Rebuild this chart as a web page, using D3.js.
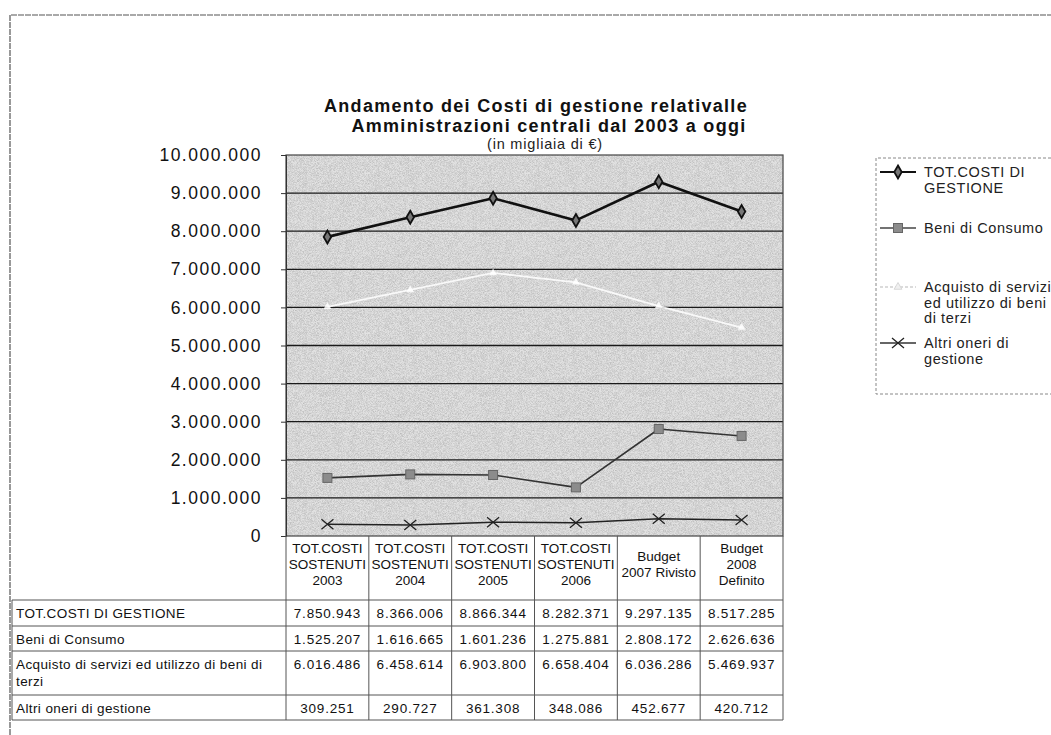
<!DOCTYPE html>
<html>
<head>
<meta charset="utf-8">
<script src="https://cdn.jsdelivr.net/npm/d3@7"></script>
<style>
  html, body { margin: 0; padding: 0; background: #fff; }
  svg { display: block; font-family: "Liberation Sans", Arial, sans-serif; }
</style>
</head>
<body>
<svg id="chart" width="1051" height="735"></svg>
<script>
// ---------------- DATA ----------------
const categories = [
  "TOT.COSTI SOSTENUTI 2003", "TOT.COSTI SOSTENUTI 2004", "TOT.COSTI SOSTENUTI 2005",
  "TOT.COSTI SOSTENUTI 2006", "Budget 2007 Rivisto", "Budget 2008 Definito"
];
const categoryLines = [
  ["TOT.COSTI", "SOSTENUTI", "2003"],
  ["TOT.COSTI", "SOSTENUTI", "2004"],
  ["TOT.COSTI", "SOSTENUTI", "2005"],
  ["TOT.COSTI", "SOSTENUTI", "2006"],
  ["Budget", "2007 Rivisto"],
  ["Budget", "2008", "Definito"]
];
const seriesNames = [
  "TOT.COSTI DI GESTIONE",
  "Beni di Consumo",
  "Acquisto di servizi ed utilizzo di beni di terzi",
  "Altri oneri di gestione"
];
const totCosti        = [7850943, 8366006, 8866344, 8282371, 9297135, 8517285];
const beniConsumo     = [1525207, 1616665, 1601236, 1275881, 2808172, 2626636];
const acquistoServizi = [6016486, 6458614, 6903800, 6658404, 6036286, 5469937];
const altriOneri      = [309251, 290727, 361308, 348086, 452677, 420712];
const yTicks = [0, 1000000, 2000000, 3000000, 4000000, 5000000, 6000000, 7000000, 8000000, 9000000, 10000000];
const legendLabelLines = [
  ["TOT.COSTI DI", "GESTIONE"],
  ["Beni di Consumo"],
  ["Acquisto di servizi", "ed utilizzo di beni", "di terzi"],
  ["Altri oneri di", "gestione"]
];
const tableRowLabelLines = [
  ["TOT.COSTI DI GESTIONE"],
  ["Beni di Consumo"],
  ["Acquisto di servizi ed utilizzo di beni di", "terzi"],
  ["Altri oneri di gestione"]
];
const titleLines = ["Andamento dei Costi di gestione relativalle", "Amministrazioni centrali dal 2003 a oggi"];
const subtitle = "(in migliaia di €)";

const seriesValues = [totCosti, beniConsumo, acquistoServizi, altriOneri];

// ---------------- SETUP ----------------
const svg = d3.select("#chart");
const itLocale = d3.formatLocale({ decimal: ",", thousands: ".", grouping: [3], currency: ["", "€"] });
const fmt = itLocale.format(",d");

const plot = { left: 286, right: 783, top: 155, bottom: 536 };
const x = d3.scaleBand().domain(categories).range([plot.left, plot.right]);
const y = d3.scaleLinear().domain([0, 10000000]).range([plot.bottom, plot.top]);

// defs: fine stipple texture
const defs = svg.append("defs");
const f = defs.append("filter").attr("id", "grain").attr("x", 0).attr("y", 0).attr("width", "100%").attr("height", "100%");
f.append("feTurbulence").attr("type", "fractalNoise").attr("baseFrequency", 1.6).attr("numOctaves", 1).attr("seed", 7).attr("result", "t");
f.append("feColorMatrix").attr("in", "t").attr("type", "matrix")
  .attr("values", "0 0 0 0 0.25  0 0 0 0 0.25  0 0 0 0 0.25  1.3 0 0 0 -0.45");

// outer frame
svg.append("path")
  .attr("d", "M10,735 L10,15 L1051,15")
  .attr("fill", "none").attr("stroke", "#555").attr("stroke-width", 1.2).attr("stroke-dasharray", "6,1");

// title
const tg = svg.append("g").attr("font-weight", "bold").attr("font-size", 18).attr("fill", "#111").attr("text-anchor", "middle").attr("letter-spacing", 1.3);
tg.append("text").attr("x", 536).attr("y", 112).text(titleLines[0]);
tg.append("text").attr("x", 549).attr("y", 132).text(titleLines[1]);
svg.append("text").attr("x", 545).attr("y", 149).attr("text-anchor", "middle").attr("font-size", 14.5).attr("letter-spacing", 0.8).attr("fill", "#222").text(subtitle);

// plot background
svg.append("rect").attr("x", plot.left).attr("y", plot.top).attr("width", plot.right - plot.left).attr("height", plot.bottom - plot.top).attr("fill", "#e2e2e2");
svg.append("rect").attr("x", plot.left).attr("y", plot.top).attr("width", plot.right - plot.left).attr("height", plot.bottom - plot.top).attr("filter", "url(#grain)").attr("opacity", 0.75);

// gridlines
svg.append("g").selectAll("line").data(yTicks.filter(d => d > 0 && d < 10000000)).join("line")
  .attr("x1", plot.left).attr("x2", plot.right)
  .attr("y1", d => y(d)).attr("y2", d => y(d))
  .attr("stroke", "#1a1a1a").attr("stroke-width", 1.3);

// plot border
svg.append("rect").attr("x", plot.left).attr("y", plot.top).attr("width", plot.right - plot.left).attr("height", plot.bottom - plot.top)
  .attr("fill", "none").attr("stroke", "#444").attr("stroke-width", 1.2);

// y axis
const yAxis = d3.axisLeft(y).tickValues(yTicks).tickFormat(fmt).tickSize(5).tickPadding(19);
const yg = svg.append("g").attr("transform", `translate(${plot.left},0)`).call(yAxis);
yg.select(".domain").attr("stroke", "#333");
yg.selectAll(".tick line").attr("stroke", "#333");
yg.selectAll(".tick text").attr("font-size", 17.5).attr("font-family", "Liberation Sans, Arial, sans-serif").attr("fill", "#111").attr("letter-spacing", 1.5);

// ---------------- SERIES ----------------
const cx = d => x(d) + x.bandwidth() / 2;
const line = d3.line().x(d => cx(d.c)).y(d => y(d.v));
const seriesStyle = [
  { stroke: "#111", width: 2.6, opacity: 1 },
  { stroke: "#333", width: 1.6, opacity: 1 },
  { stroke: "#ffffff", width: 1.8, opacity: 0.85 },
  { stroke: "#222", width: 1.5, opacity: 1 }
];
const series = seriesValues.map((vals, i) => vals.map((v, j) => ({ c: categories[j], v, s: i })));

const sg = svg.append("g");
series.forEach((pts, i) => {
  sg.append("path").datum(pts).attr("d", line).attr("fill", "none")
    .attr("stroke", seriesStyle[i].stroke).attr("stroke-width", seriesStyle[i].width)
    .attr("stroke-opacity", seriesStyle[i].opacity).attr("stroke-linejoin", "round");
});

function drawMarker(g, s, px, py) {
  if (s === 0) {
    g.append("path").attr("d", d3.symbol(d3.symbolDiamond, 48)()).attr("transform", `translate(${px},${py})`)
      .attr("fill", "#777").attr("stroke", "#111").attr("stroke-width", 1.8);
  } else if (s === 1) {
    g.append("rect").attr("x", px - 4.5).attr("y", py - 4.5).attr("width", 9).attr("height", 9)
      .attr("fill", "#8c8c8c").attr("stroke", "#666").attr("stroke-width", 1);
  } else if (s === 2) {
    g.append("path").attr("d", d3.symbol(d3.symbolTriangle, 26)()).attr("transform", `translate(${px},${py})`)
      .attr("fill", "#fff").attr("fill-opacity", 0.85).attr("stroke", "none");
  } else {
    g.append("path").attr("d", `M${px - 6},${py - 5}L${px + 6},${py + 5}M${px - 6},${py + 5}L${px + 6},${py - 5}`)
      .attr("stroke", "#222").attr("stroke-width", 1.3).attr("fill", "none");
  }
}
series.forEach((pts, i) => pts.forEach(p => drawMarker(sg, i, cx(p.c), y(p.v))));

// ---------------- LEGEND ----------------
const lg = svg.append("g");
lg.append("path").attr("d", "M1051,158 L876,158 L876,394 L1051,394")
  .attr("fill", "none").attr("stroke", "#888").attr("stroke-width", 1).attr("stroke-dasharray", "3,2");
const legendY = [172, 228, 287, 343];
const legendLineStroke = ["#111", "#444", "#d0d0d0", "#333"];
legendLabelLines.forEach((lines, i) => {
  const ly = legendY[i];
  lg.append("line").attr("x1", 880).attr("x2", 916).attr("y1", ly).attr("y2", ly)
    .attr("stroke", legendLineStroke[i]).attr("stroke-width", i === 0 ? 2.2 : 1.4)
    .attr("stroke-dasharray", i === 2 ? "3,2" : null);
  if (i === 2) {
    lg.append("path").attr("d", d3.symbol(d3.symbolTriangle, 26)()).attr("transform", `translate(898,${ly})`)
      .attr("fill", "#f0f0f0").attr("stroke", "#d8d8d8");
  } else {
    drawMarker(lg, i, 898, ly);
  }
  const t = lg.append("text").attr("x", 924).attr("y", ly + 5).attr("font-size", 14.5).attr("fill", "#222").attr("letter-spacing", 0.6);
  lines.forEach((ln, k) => t.append("tspan").attr("x", 924).attr("dy", k === 0 ? 0 : 15.5).text(ln));
});

// ---------------- TABLE ----------------
const tbl = svg.append("g").attr("font-size", 13.5).attr("fill", "#111").attr("letter-spacing", 0.4);
const rowEdges = [600, 626, 651, 695, 720];
const tableLeft = 12;
const gridStroke = "#555";

// header (category) cells
categories.forEach((c, j) => {
  const lines = categoryLines[j];
  const midY = (plot.bottom + rowEdges[0]) / 2 - 4;
  const lh = 16;
  const startY = midY - (lines.length - 1) * lh / 2 + 5;
  const t = tbl.append("text").attr("text-anchor", "middle").attr("x", cx(c)).attr("y", startY).attr("letter-spacing", 0);
  lines.forEach((ln, k) => t.append("tspan").attr("x", cx(c)).attr("dy", k === 0 ? 0 : lh).text(ln));
});

// data rows
seriesValues.forEach((vals, i) => {
  const top = rowEdges[i];
  const lab = tableRowLabelLines[i];
  const t = tbl.append("text").attr("x", tableLeft + 4).attr("y", top + 18);
  lab.forEach((ln, k) => t.append("tspan").attr("x", tableLeft + 4).attr("dy", k === 0 ? 0 : 17).text(ln));
  vals.forEach((v, j) => {
    tbl.append("text").attr("text-anchor", "middle").attr("x", cx(categories[j])).attr("y", top + 18).attr("letter-spacing", 0.8).text(fmt(v));
  });
});

// table grid lines
const gl = svg.append("g").attr("stroke", gridStroke).attr("stroke-width", 1).attr("fill", "none");
rowEdges.forEach((ry) => {
  gl.append("line").attr("x1", tableLeft).attr("x2", plot.right).attr("y1", ry).attr("y2", ry);
});
gl.append("line").attr("x1", tableLeft).attr("x2", tableLeft).attr("y1", rowEdges[0]).attr("y2", rowEdges[rowEdges.length - 1]);
categories.forEach((c) => {
  gl.append("line").attr("x1", x(c)).attr("x2", x(c)).attr("y1", plot.bottom).attr("y2", rowEdges[rowEdges.length - 1]);
});
gl.append("line").attr("x1", plot.right).attr("x2", plot.right).attr("y1", plot.bottom).attr("y2", rowEdges[rowEdges.length - 1]);
</script>
</body>
</html>
